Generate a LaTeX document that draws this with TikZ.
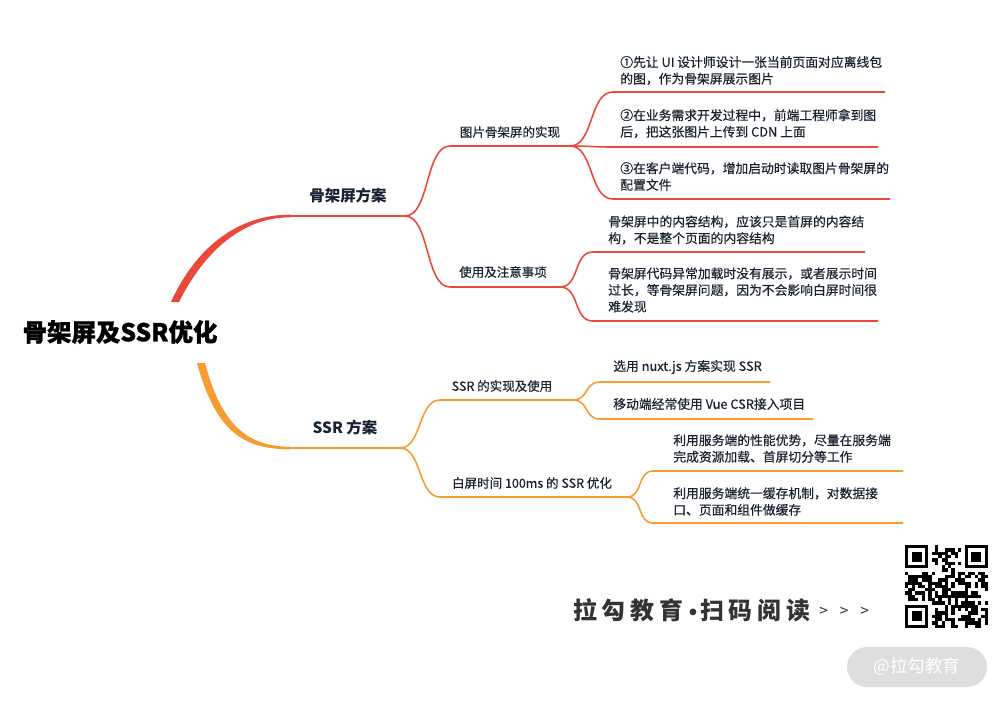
\documentclass[tikz,border=0pt]{standalone}
\usepackage{fontspec}
\setmainfont{Noto Sans CJK SC}
\definecolor{MapRed}{RGB}{234,72,58}
\definecolor{MapOrange}{RGB}{246,156,48}
\definecolor{MapInk}{RGB}{24,34,48}
\definecolor{FootGray}{RGB}{51,51,51}
\definecolor{TagGray}{RGB}{222,222,222}
\usetikzlibrary{calc}

\begin{document}
\begin{tikzpicture}[x=0.025cm,y=-0.025cm,
    rootlabel/.style={font=\fontsize{17.4pt}{20pt}\selectfont\bfseries\addfontfeature{FakeBold=1.2}, text=black, inner sep=0},
    mainlabel/.style={font=\fontsize{11pt}{13pt}\selectfont\bfseries, text=MapInk, inner sep=0},
    sublabel/.style={font=\fontsize{8.9pt}{11pt}\selectfont\addfontfeature{FakeBold=0.35}, text=MapInk, inner sep=0},
    leaf/.style={font=\fontsize{9.1pt}{11.8pt}\selectfont\addfontfeature{FakeBold=0.35}, text=MapInk, inner sep=0, anchor=west, align=left},
    redline/.style={draw=MapRed, line width=1.1pt},
    orangeline/.style={draw=MapOrange, line width=1.1pt},
    foot/.style={anchor=west, inner sep=0, text=FootGray},
]
    \fill[white] (0,0) rectangle (1000,700);
    \useasboundingbox (0,0) rectangle (1000,700);

    % root
    \node[rootlabel] (root) at (120,332) {骨架屏及SSR优化};
    \coordinate (rootUp) at (175,302);
    \coordinate (rootDown) at (201,363);

    % main branches
    \coordinate (skelA) at (290,216); \coordinate (skelB) at (405,216);
    \coordinate (ssrA) at (290,448);  \coordinate (ssrB) at (400,448);
    \node[mainlabel] (skel) at (348,196) {骨架屏方案};
    \node[mainlabel] (ssr) at (345,428) {SSR 方案};

    % sub branches
    \coordinate (imgA) at (450,146); \coordinate (imgB) at (570,146);
    \coordinate (useA) at (450,287); \coordinate (useB) at (560,287);
    \coordinate (nuxtA) at (440,400); \coordinate (nuxtB) at (573,400);
    \coordinate (optA) at (440,497); \coordinate (optB) at (627,497);
    \node[sublabel] (skelImg) at (510,132) {图片骨架屏的实现};
    \node[sublabel] (skelUse) at (503,272) {使用及注意事项};
    \node[sublabel] (ssrUse) at (502,386) {SSR 的实现及使用};
    \node[sublabel] (ssrOpt) at (532,483) {白屏时间 100ms 的 SSR 优化};

    % leaves
    \node[leaf] (img1) at (620,70.5) {①先让 UI 设计师设计一张当前页面对应离线包\\的图，作为骨架屏展示图片};
    \node[leaf] (img2) at (620,123.5) {②在业务需求开发过程中，前端工程师拿到图\\后，把这张图片上传到 CDN 上面};
    \node[leaf] (img3) at (620,176.5) {③在客户端代码，增加启动时读取图片骨架屏的\\配置文件};
    \node[leaf] (use1) at (608,230) {骨架屏中的内容结构，应该只是首屏的内容结\\构，不是整个页面的内容结构};
    \node[leaf] (use2) at (608,290) {骨架屏代码异常加载时没有展示，或者展示时间\\过长，等骨架屏问题，因为不会影响白屏时间很\\难发现};
    \node[leaf] (nuxt1) at (613,367) {选用 nuxt.js 方案实现 SSR};
    \node[leaf] (nuxt2) at (613,404) {移动端经常使用 Vue CSR接入项目};
    \node[leaf] (opt1) at (673,448.5) {利用服务端的性能优势，尽量在服务端\\完成资源加载、首屏切分等工作};
    \node[leaf] (opt2) at (673,501.5) {利用服务端统一缓存机制，对数据接\\口、页面和组件做缓存};
    \coordinate (img1A) at (613,92);  \coordinate (img1B) at (885,92);
    \coordinate (img2A) at (613,147); \coordinate (img2B) at (878,147);
    \coordinate (img3A) at (613,199); \coordinate (img3B) at (890,199);
    \coordinate (use1A) at (593,252); \coordinate (use1B) at (865,252);
    \coordinate (use2A) at (593,321); \coordinate (use2B) at (878,321);
    \coordinate (nuxt1A) at (600,382); \coordinate (nuxt1B) at (770,382);
    \coordinate (nuxt2A) at (600,419); \coordinate (nuxt2B) at (813,419);
    \coordinate (opt1A) at (653,471); \coordinate (opt1B) at (903,471);
    \coordinate (opt2A) at (653,523); \coordinate (opt2B) at (903,523);

    % thick root branches
    \fill[MapRed] ($(rootUp)+(-4,0)$) .. controls +(25,-55) and +(-52,0) .. ($(skelA)+(0,-1.3)$)
        -- ($(skelA)+(0,1.3)$) .. controls +(-48,0) and +(25,-50) .. ($(rootUp)+(4,0)$) -- cycle;
    \fill[MapOrange] ($(rootDown)+(-4,0)$) .. controls +(18,65) and +(-50,0) .. ($(ssrA)+(0,1.3)$)
        -- ($(ssrA)+(0,-1.3)$) .. controls +(-44,0) and +(16,60) .. ($(rootDown)+(4,0)$) -- cycle;

    % red part
    \draw[redline] (skelA) -- (skelB);
    \foreach \a/\b in {imgA/imgB, useA/useB} {
        \draw[redline] (skelB) .. controls +(25,0) and +(-25,0) .. (\a) -- (\b);
    }
    \foreach \a/\b in {img1A/img1B, img2A/img2B, img3A/img3B} {
        \draw[redline] (imgB) .. controls +(24,0) and +(-24,0) .. (\a) -- (\b);
    }
    \foreach \a/\b in {use1A/use1B, use2A/use2B} {
        \draw[redline] (useB) .. controls +(20,0) and +(-20,0) .. (\a) -- (\b);
    }

    % orange part
    \draw[orangeline] (ssrA) -- (ssrB);
    \foreach \a/\b in {nuxtA/nuxtB, optA/optB} {
        \draw[orangeline] (ssrB) .. controls +(22,0) and +(-22,0) .. (\a) -- (\b);
    }
    \foreach \a/\b in {nuxt1A/nuxt1B, nuxt2A/nuxt2B} {
        \draw[orangeline] (nuxtB) .. controls +(16,0) and +(-16,0) .. (\a) -- (\b);
    }
    \foreach \a/\b in {opt1A/opt1B, opt2A/opt2B} {
        \draw[orangeline] (optB) .. controls +(16,0) and +(-16,0) .. (\a) -- (\b);
    }

    % footer
    \node[foot, font=\fontsize{17pt}{20pt}\selectfont\bfseries\addfontfeature{LetterSpace=20}] (brandL) at (573,610) {拉勾教育};
    \node[anchor=center, inner sep=0, text=FootGray, font=\fontsize{17pt}{20pt}\selectfont\bfseries] (brandDot) at (693,615) {·};
    \node[foot, font=\fontsize{17pt}{20pt}\selectfont\bfseries\addfontfeature{LetterSpace=20}] (brandR) at (700,610) {扫码阅读};
    \node[foot, font=\fontsize{11pt}{13pt}\selectfont] (more) at (819,612) {>\hspace{0.3cm}>\hspace{0.3cm}>};

    % qr code
    \def\qm{3.32}
    \begin{scope}[shift={(905,545)}]
        \pgfmathsetseed{11}
        \foreach \i in {0,...,24} {
            \foreach \j in {0,...,24} {
                \pgfmathtruncatemacro\bit{(rnd<0.52)*!((\i<8 && \j<8) || (\i>16 && \j<8) || (\i<8 && \j>16))}
                \ifnum\bit=1 \fill[black] (\i*\qm,\j*\qm) rectangle +(\qm,\qm); \fi
            }
        }
        \foreach \fx/\fy in {0/0, 18/0, 0/18} {
            \fill[black] (\fx*\qm,\fy*\qm) rectangle +(7*\qm,7*\qm);
            \fill[white] (\fx*\qm+\qm,\fy*\qm+\qm) rectangle +(5*\qm,5*\qm);
            \fill[black] (\fx*\qm+2*\qm,\fy*\qm+2*\qm) rectangle +(3*\qm,3*\qm);
        }
    \end{scope}

    % watermark
    \fill[TagGray, rounded corners=20*0.025cm] (847,647) rectangle (987,687);
    \node[text=white, font=\fontsize{12.5pt}{15pt}\selectfont, inner sep=0] (tag) at (917,667) {@拉勾教育};
\end{tikzpicture}
\end{document}
